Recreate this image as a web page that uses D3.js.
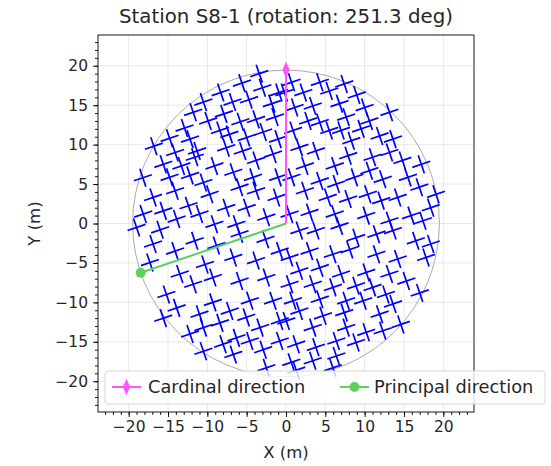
<!DOCTYPE html>
<html><head><meta charset="utf-8">
<script src="https://cdn.jsdelivr.net/npm/d3@7/dist/d3.min.js"></script>
<style>body{margin:0;background:#fff;}svg{display:block;font-family:"DejaVu Sans",sans-serif;}</style>
</head><body>
<script>
const titleText = "Station S8-1 (rotation: 251.3 deg)";
const rotationDeg = 251.3;
const radius = 19.5;
const majorTicks = [-20,-15,-10,-5,0,5,10,15,20];
const legendLabels = ["Cardinal direction","Principal direction"];
const cardinalEnd = [0, 19.5];
const principalEnd = [-18.47, -6.25];
const points = [
[-3.4,19.0],[-5.6,17.8],[-3.0,17.2],[-0.9,16.6],[-6.8,15.4],[-4.7,15.7],[-1.8,15.2],[-10.5,15.4],[-11.8,14.1],[-7.9,13.9],
[-9.9,13.0],[-5.8,12.9],[-3.8,13.2],[-1.4,13.5],[-12.9,12.1],[-14.8,10.8],[-16.8,9.8],[-12.2,10.7],[-8.4,11.8],[-5.0,10.9],
[-2.9,11.6],[-1.0,10.7],[-14.1,9.0],[-11.3,9.2],[-7.6,9.6],[-5.5,9.2],[-3.8,8.0],[-1.65,8.8],[-15.6,7.5],[-13.3,7.3],
[-11.6,8.4],[-9.1,7.3],[-6.7,6.5],[-4.2,5.85],[-1.0,5.85],[-18.2,5.8],[-14.8,5.85],[-12.2,6.1],[-10.5,5.2],[-14.1,4.15],
[-16.9,3.3],[-9.7,3.7],[-5.9,4.6],[-3.8,4.15],[-1.2,3.3],[-18.15,1.2],[-15.6,1.6],[-12.4,2.25],[-11.0,1.2],[-7.6,2.0],
[-5.0,2.0],[-2.5,0.8],[-19.0,-0.5],[-13.9,0.56],[-9.1,-0.1],[-6.3,-0.1],[-8.3,16.6],[-7.2,11.3],
[0.7,17.9],[4.3,17.9],[7.4,17.7],[2.2,16.6],[5.5,16.8],[-0.2,16.6],[1.1,14.7],[3.4,14.9],[6.8,15.2],[10.0,14.7],
[13.15,14.1],[2.8,13.0],[4.3,12.8],[7.65,13.5],[10.6,13.0],[0.9,11.8],[5.5,11.8],[7.0,11.8],[8.3,10.5],[9.55,12.0],
[11.9,11.1],[13.6,10.7],[1.7,9.65],[3.8,9.2],[7.9,8.6],[11.0,8.4],[13.15,9.0],[14.8,8.0],[17.2,7.5],[2.4,7.3],
[6.2,7.3],[0.7,5.85],[4.3,5.4],[6.4,5.0],[8.7,5.85],[10.6,6.7],[12.3,5.6],[15.5,5.85],[16.95,4.6],[19.07,3.7],
[2.4,4.15],[5.3,3.3],[7.9,3.1],[10.4,3.7],[12.1,2.9],[14.2,3.3],[18.4,2.0],[0.46,1.2],[3.0,1.4],[6.2,1.2],
[10.2,1.0],[13.15,0.35],[15.9,1.0],[17.4,0.35],[6.8,-0.3],[9.0,16.3],
[-16.0,-0.8],[-5.9,-1.3],[-2.6,-2.0],[-16.9,-2.6],[-14.1,-3.5],[-11.6,-2.2],[-8.85,-2.8],[-17.3,-4.95],[-13.5,-6.4],[-10.3,-5.2],
[-6.7,-4.3],[-3.8,-4.7],[-0.8,-3.5],[-15.2,-9.0],[-11.8,-7.7],[-9.3,-6.85],[-5.9,-7.3],[-2.5,-6.85],[-13.9,-10.7],[-15.6,-12.0],
[-11.0,-11.5],[-9.3,-10.0],[-7.15,-11.1],[-4.6,-9.8],[-1.65,-9.8],[-12.2,-14.0],[-10.5,-13.2],[-8.4,-12.6],[-5.05,-11.9],[-3.3,-13.2],
[-0.8,-12.35],[-10.5,-16.2],[-8.0,-15.3],[-6.3,-14.5],[-4.6,-14.9],[-6.7,-16.6],[-2.9,-16.0],[-0.8,-14.9],[-2.5,-18.3],
[1.7,-0.9],[3.8,-0.9],[8.9,-1.8],[11.5,-1.35],[13.6,-0.9],[16.5,-2.2],[18.4,-2.6],[0.46,-4.3],[3.0,-3.5],[5.96,-3.9],
[8.1,-3.3],[11.5,-3.9],[14.2,-4.5],[17.8,-4.3],[1.7,-6.0],[4.3,-5.6],[7.0,-6.4],[10.2,-6.2],[13.15,-6.4],[15.3,-7.3],
[17.0,-8.8],[0.46,-7.7],[3.4,-7.7],[5.96,-8.1],[8.9,-7.9],[11.0,-8.1],[12.7,-9.0],[0.88,-9.8],[4.3,-9.6],[7.65,-9.8],
[9.8,-9.8],[13.6,-10.2],[1.7,-11.1],[4.7,-11.7],[7.4,-11.3],[11.9,-11.5],[14.6,-12.8],[0.04,-12.35],[3.4,-13.2],[7.65,-13.2],
[10.2,-13.8],[12.3,-13.6],[1.3,-15.3],[3.8,-15.7],[6.4,-14.9],[8.9,-15.1],[3.4,-17.4],[6.4,-16.8],[0.67,-17.6],[5.96,-18.3],
[1.3,-18.6]
];

const W = 551, H = 466;
const m = {l: 98, r: 474, t: 35, b: 412};
const lim = 23.9;
const x = d3.scaleLinear().domain([-lim, lim]).range([m.l, m.r]);
const y = d3.scaleLinear().domain([-lim, lim]).range([m.b, m.t]);
const minorTicks = d3.range(-23, 24, 1);
const fmt = d => String(d).replace("-", "\u2212");

const svg = d3.select("body").append("svg").attr("width", W).attr("height", H);
svg.append("defs").append("clipPath").attr("id","clip").append("rect")
  .attr("x", m.l).attr("y", m.t).attr("width", m.r - m.l).attr("height", m.b - m.t);

const grid = svg.append("g").attr("stroke", "#b0b0b0").attr("stroke-opacity", 0.35).attr("stroke-width", 0.8);
majorTicks.forEach(t => {
  grid.append("line").attr("x1", x(t)).attr("x2", x(t)).attr("y1", m.t).attr("y2", m.b);
  grid.append("line").attr("y1", y(t)).attr("y2", y(t)).attr("x1", m.l).attr("x2", m.r);
});

const plot = svg.append("g").attr("clip-path", "url(#clip)");
plot.append("circle").attr("cx", x(0)).attr("cy", y(0)).attr("r", x(radius) - x(0))
  .attr("fill", "none").attr("stroke", "#aaaaaa").attr("stroke-width", 1);

const crossAngle = -(270 - rotationDeg);
const arm = 9.5;
plot.append("g").selectAll("path").data(points).join("path")
  .attr("d", `M${-arm},0H${arm}M0,${-arm}V${arm}`)
  .attr("transform", d => `translate(${x(d[0])},${y(d[1])}) rotate(${crossAngle})`)
  .attr("stroke", "#0000ff").attr("stroke-width", 1.7).attr("fill", "none");

const magenta = "#ff55ff", green = "#5fcf5f";
plot.append("line").attr("x1", x(0)).attr("y1", y(0)).attr("x2", x(cardinalEnd[0])).attr("y2", y(cardinalEnd[1]))
  .attr("stroke", magenta).attr("stroke-width", 2);
const diamond = d3.symbol().type(d3.symbolDiamond).size(80);
plot.append("path").attr("d", diamond()).attr("transform", `translate(${x(cardinalEnd[0])},${y(cardinalEnd[1])}) scale(0.75,1)`)
  .attr("fill", magenta);
plot.append("line").attr("x1", x(0)).attr("y1", y(0)).attr("x2", x(principalEnd[0])).attr("y2", y(principalEnd[1]))
  .attr("stroke", green).attr("stroke-width", 2);
plot.append("circle").attr("cx", x(principalEnd[0])).attr("cy", y(principalEnd[1])).attr("r", 5).attr("fill", green);

const xAxis = svg.append("g").attr("transform", `translate(0,${m.b})`)
  .call(d3.axisBottom(x).tickValues(majorTicks).tickSize(5).tickPadding(4).tickFormat(fmt));
const xMinor = svg.append("g").attr("transform", `translate(0,${m.b})`)
  .call(d3.axisBottom(x).tickValues(minorTicks).tickSize(3).tickFormat(""));
const yAxis = svg.append("g").attr("transform", `translate(${m.l},0)`)
  .call(d3.axisLeft(y).tickValues(majorTicks).tickSize(5).tickPadding(5).tickFormat(fmt));
const yMinor = svg.append("g").attr("transform", `translate(${m.l},0)`)
  .call(d3.axisLeft(y).tickValues(minorTicks).tickSize(3).tickFormat(""));
[xAxis, xMinor, yAxis, yMinor].forEach(g => {
  g.select(".domain").remove();
  g.selectAll("line").attr("stroke", "#000").attr("stroke-width", 0.9);
  g.selectAll("text").attr("font-size", 15.5).attr("fill", "#262626").attr("font-family", "DejaVu Sans");
});
svg.append("rect").attr("x", m.l).attr("y", m.t).attr("width", m.r - m.l).attr("height", m.b - m.t)
  .attr("fill", "none").attr("stroke", "#000").attr("stroke-width", 0.9);

svg.append("text").attr("x", (m.l + m.r) / 2).attr("y", 23).attr("text-anchor", "middle")
  .attr("font-size", 19.8).attr("fill", "#262626").text(titleText);
svg.append("text").attr("x", (m.l + m.r) / 2).attr("y", 458).attr("text-anchor", "middle")
  .attr("font-size", 16.5).attr("fill", "#262626").text("X (m)");
svg.append("text").attr("transform", `translate(40,${(m.t + m.b) / 2}) rotate(-90)`).attr("text-anchor", "middle")
  .attr("font-size", 16.5).attr("fill", "#262626").text("Y (m)");

const lg = svg.append("g");
lg.append("rect").attr("x", 105).attr("y", 371).attr("width", 440).attr("height", 33).attr("rx", 3)
  .attr("fill", "#fff").attr("fill-opacity", 0.8).attr("stroke", "#d5d5d5").attr("stroke-width", 1);
const items = [{c: magenta, x0: 112, tx: 148, marker: "d"}, {c: green, x0: 340, tx: 374, marker: "o"}];
items.forEach((it, i) => {
  const cy = 387;
  lg.append("line").attr("x1", it.x0).attr("x2", it.x0 + 29).attr("y1", cy).attr("y2", cy).attr("stroke", it.c).attr("stroke-width", 2);
  if (it.marker === "d") {
    lg.append("path").attr("d", diamond()).attr("transform", `translate(${it.x0 + 14.5},${cy}) scale(0.75,1)`).attr("fill", it.c);
  } else {
    lg.append("circle").attr("cx", it.x0 + 14.5).attr("cy", cy).attr("r", 5).attr("fill", it.c);
  }
  lg.append("text").attr("x", it.tx).attr("y", cy + 6).attr("font-size", 17.8).attr("fill", "#262626").text(legendLabels[i]);
});
</script>
</body></html>
